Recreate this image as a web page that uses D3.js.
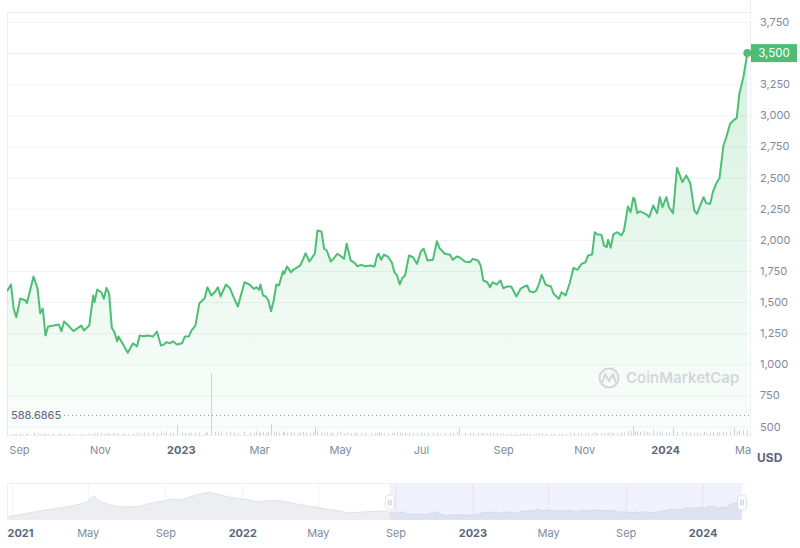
<!DOCTYPE html>
<html><head><meta charset="utf-8">
<script src="https://cdn.jsdelivr.net/npm/d3@7"></script>
<style>
body{margin:0;background:#fff;}
svg{display:block;font-family:Inter,"Noto Sans",sans-serif;}
</style>
</head><body>
<svg id="c" width="800" height="548"></svg>
<script>
// ---------- DATA ----------
const dates = ["2022-08-23","2022-08-26","2022-08-28","2022-08-30","2022-09-02","2022-09-06","2022-09-07","2022-09-12","2022-09-15","2022-09-17",
"2022-09-19","2022-09-21","2022-09-23","2022-09-27","2022-10-01","2022-10-03","2022-10-05","2022-10-09","2022-10-12","2022-10-18",
"2022-10-20","2022-10-24","2022-10-27","2022-10-28","2022-10-30","2022-11-02","2022-11-04","2022-11-06","2022-11-08","2022-11-10",
"2022-11-12","2022-11-14","2022-11-15","2022-11-18","2022-11-19","2022-11-22","2022-11-26","2022-11-29","2022-12-01","2022-12-04",
"2022-12-07","2022-12-11","2022-12-14","2022-12-17","2022-12-19","2022-12-21","2022-12-24","2022-12-26","2022-12-29","2023-01-02",
"2023-01-04","2023-01-07","2023-01-09","2023-01-12","2023-01-15","2023-01-19","2023-01-21","2023-01-24","2023-01-27","2023-01-29",
"2023-01-31","2023-02-04","2023-02-07","2023-02-10","2023-02-13","2023-02-18","2023-02-22","2023-02-25","2023-02-27","2023-03-01",
"2023-03-02","2023-03-04","2023-03-06","2023-03-08","2023-03-10","2023-03-12","2023-03-14","2023-03-16","2023-03-19","2023-03-20",
"2023-03-22","2023-03-25","2023-03-27","2023-03-30","2023-04-01","2023-04-03","2023-04-05","2023-04-08","2023-04-11","2023-04-12",
"2023-04-14","2023-04-17","2023-04-19","2023-04-21","2023-04-24","2023-04-26","2023-04-29","2023-05-01","2023-05-04","2023-05-06",
"2023-05-09","2023-05-12","2023-05-14","2023-05-17","2023-05-20","2023-05-24","2023-05-27","2023-05-29","2023-05-30","2023-06-01",
"2023-06-03","2023-06-06","2023-06-09","2023-06-11","2023-06-13","2023-06-15","2023-06-17","2023-06-19","2023-06-22","2023-06-25",
"2023-06-28","2023-07-01","2023-07-03","2023-07-06","2023-07-10","2023-07-13","2023-07-15","2023-07-19","2023-07-23","2023-07-25",
"2023-07-28","2023-07-30","2023-08-03","2023-08-07","2023-08-09","2023-08-13","2023-08-15","2023-08-17","2023-08-20","2023-08-22",
"2023-08-24","2023-08-27","2023-08-30","2023-09-01","2023-09-04","2023-09-07","2023-09-11","2023-09-14","2023-09-17","2023-09-19",
"2023-09-21","2023-09-24","2023-09-26","2023-09-28","2023-09-30","2023-10-03","2023-10-07","2023-10-09","2023-10-13","2023-10-15",
"2023-10-18","2023-10-21","2023-10-24","2023-10-27","2023-10-30","2023-11-02","2023-11-04","2023-11-07","2023-11-09","2023-11-11",
"2023-11-14","2023-11-16","2023-11-18","2023-11-19","2023-11-21","2023-11-23","2023-11-26","2023-11-29","2023-12-01","2023-12-04",
"2023-12-06","2023-12-08","2023-12-09","2023-12-11","2023-12-13","2023-12-16","2023-12-18","2023-12-20","2023-12-23","2023-12-26",
"2023-12-28","2023-12-30","2024-01-02","2024-01-04","2024-01-07","2024-01-10","2024-01-14","2024-01-17","2024-01-20","2024-01-23",
"2024-01-25","2024-01-27","2024-01-30","2024-02-01","2024-02-04","2024-02-06","2024-02-09","2024-02-11","2024-02-14","2024-02-16",
"2024-02-19","2024-02-22","2024-02-24","2024-02-26","2024-02-29","2024-03-03"];

const prices = [1587,1641,1448,1378,1528,1512,1491,1705,1609,1410,
1448,1231,1303,1311,1320,1266,1344,1303,1266,1311,
1271,1311,1553,1499,1601,1579,1526,1614,1566,1293,
1258,1185,1223,1169,1151,1092,1169,1143,1231,1226,
1231,1223,1263,1151,1156,1177,1169,1185,1159,1169,
1223,1223,1271,1311,1491,1531,1619,1553,1585,1619,
1545,1641,1611,1534,1464,1659,1639,1606,1619,1598,
1641,1553,1545,1512,1426,1512,1641,1633,1748,1727,
1786,1740,1761,1780,1794,1839,1892,1826,1874,1888,
2075,2067,1928,1914,1826,1847,1888,1874,1847,1968,
1834,1815,1788,1799,1788,1794,1786,1874,1888,1839,
1880,1866,1820,1740,1713,1641,1695,1713,1874,1860,
1807,1909,1928,1834,1839,1989,1933,1888,1880,1839,
1866,1860,1826,1820,1847,1834,1794,1673,1659,1619,
1659,1641,1673,1611,1625,1625,1545,1606,1625,1633,
1585,1579,1593,1647,1719,1639,1625,1566,1526,1579,
1553,1647,1775,1759,1807,1820,1874,1882,2061,2043,
2040,1954,1941,2000,1936,2043,2061,2035,2075,2268,
2222,2338,2330,2214,2230,2214,2203,2182,2276,2214,
2342,2262,2342,2262,2214,2579,2463,2517,2455,2236,
2209,2262,2342,2294,2289,2383,2463,2495,2758,2820,
2932,2964,2980,3173,3307,3500];

// volume (billions USD)
const volumes = [0.8,0.8,1,0.8,1.2,0.8,1,1.5,1,0.8,
0.8,1,0.8,1,0.8,1,0.8,1,0.8,1,
0.8,1,1.2,1,1.5,1,0.8,1,1.2,1,
1.5,1,0.8,1,1.2,1,0.8,1.5,1.2,2,
1.5,2.5,1.5,3,1.5,2,1.5,2,8,2,
1.5,2,1.5,2,2,1.5,2.5,50,2.5,2,
3,2,2.5,2,1.5,2.5,2,2,3,2,
2,2.5,2,2.5,9,3,2.5,2,3,2.5,
2,2.5,2,1.5,2,2.5,2,2,2.5,6,
3,2.5,2,2.5,2,1.5,2,2.5,1.5,2,
1.5,2,1.5,1.5,1.5,1,1.5,2,2.5,1.5,
1.5,1,1.5,2,2.5,2,1.5,2,1.5,1,
1,1.5,1,1.5,2,1.5,1,1.5,1,1.5,
2,6,2,1.5,1.5,2,1.5,1.5,1,1.5,
1,1.5,1,1,1,1,1,1,1,1,
1,0.8,1,1,1.5,1,1,1,1,1,
1,1,1.5,1,1.5,1,1.5,1,2,1.5,
1.5,1.5,1,1.5,1.5,2,1.5,2,2,3,
3,7,3,3,2.5,3,2.5,2,3.5,2.5,
3,2,2,2.5,6,2.5,2,2.5,2,2,
2,1.5,2.5,2,2,2.5,2,2,2.5,2.5,
3,6,3,3.5,4,4];

// navigator history before the zoomed window
const navDates = ["2020-12-24","2021-01-01","2021-01-15","2021-02-01","2021-02-15","2021-03-01","2021-04-01","2021-04-20","2021-05-01","2021-05-10",
"2021-05-20","2021-06-01","2021-06-20","2021-07-01","2021-07-20","2021-08-01","2021-08-20","2021-09-01","2021-09-10","2021-09-25",
"2021-10-10","2021-10-25","2021-11-10","2021-11-25","2021-12-10","2021-12-25","2022-01-10","2022-01-25","2022-02-10","2022-03-01",
"2022-03-20","2022-04-01","2022-05-01","2022-05-20","2022-06-01","2022-06-18","2022-07-01","2022-07-20","2022-08-01","2022-08-14"];
const navPrices = [900,1005,1305,1575,1800,2025,2475,2850,3225,4095,
3300,2850,2445,2445,2475,2805,3150,3375,3600,3450,
3900,4350,4605,4275,3900,3675,3525,3150,3330,3375,
3000,2775,2325,2025,1875,1500,1600,1700,1750,1800];

const yTicks = [500,750,1000,1250,1500,1750,2000,2250,2500,2750,3000,3250,3500,3750];
const xTickDates = ["2022-09-01","2022-11-01","2023-01-01","2023-03-01","2023-05-01","2023-07-01","2023-09-01","2023-11-01","2024-01-01","2024-03-01"];
const xTickLabels = ["Sep","Nov","2023","Mar","May","Jul","Sep","Nov","2024","Mar"];
const navTickDates = ["2021-01-01","2021-05-01","2021-09-01","2022-01-01","2022-05-01","2022-09-01","2023-01-01","2023-05-01","2023-09-01","2024-01-01"];
const navTickLabels = ["2021","May","Sep","2022","May","Sep","2023","May","Sep","2024"];
const refLineValue = 588.6865;
const currency = "USD";
const watermark = "CoinMarketCap";

// ---------- CHART ----------
const parse = d3.timeParse("%Y-%m-%d");
const green = "#4cbf74";
const gridCol = "#eff2f5";
const svg = d3.select("#c");

const series = dates.map((d,i)=>({date:parse(d), price:prices[i], vol:volumes[i]}));
const navSeries = navDates.map((d,i)=>({date:parse(d), price:navPrices[i]})).concat(series);

const L = 7, R = 750, T = 12, B = 435;
const x = d3.scaleTime().domain([parse("2022-08-23"), parse("2024-03-05")]).range([L, R]);
const y = d3.scaleLinear().domain([500, 3750]).range([426.5, 22]);
const yv = d3.scaleLinear().domain([0, 50]).range([B, 373]);

const defs = svg.append("defs");
const grad = defs.append("linearGradient").attr("id","gfill")
  .attr("gradientUnits","userSpaceOnUse").attr("x1",0).attr("x2",0).attr("y1",T).attr("y2",B);
grad.append("stop").attr("offset","0%").attr("stop-color","#3fbf6a").attr("stop-opacity",0.24);
grad.append("stop").attr("offset","100%").attr("stop-color","#3fbf6a").attr("stop-opacity",0.02);
defs.append("clipPath").attr("id","plotclip").append("rect").attr("x",L).attr("y",0).attr("width",R-L).attr("height",B);
defs.append("clipPath").attr("id","xclip").append("rect").attr("x",0).attr("y",B).attr("width",751).attr("height",40);

// gridlines via axis
const gridG = svg.append("g").attr("transform",`translate(${L},0)`)
  .call(d3.axisRight(y).tickValues(yTicks).tickSize(R-L).tickFormat(""));
gridG.select(".domain").remove();
gridG.selectAll("line").attr("stroke",gridCol).attr("stroke-width",1);

// plot borders
const bcol = "#eceff3";
svg.append("line").attr("x1",L).attr("x2",R).attr("y1",T+0.5).attr("y2",T+0.5).attr("stroke",bcol);
svg.append("line").attr("x1",L+0.5).attr("x2",L+0.5).attr("y1",T).attr("y2",B).attr("stroke",bcol);
svg.append("line").attr("x1",R+0.5).attr("x2",R+0.5).attr("y1",0).attr("y2",B+2).attr("stroke",bcol);
svg.append("line").attr("x1",L).attr("x2",R).attr("y1",B+0.5).attr("y2",B+0.5).attr("stroke",bcol);

const plot = svg.append("g").attr("clip-path","url(#plotclip)");

// area
plot.append("path").datum(series)
  .attr("d", d3.area().x(d=>x(d.date)).y0(B).y1(d=>y(d.price)))
  .attr("fill","url(#gfill)");

// volume bars
plot.selectAll(".vol").data(series).join("line")
  .attr("x1",d=>Math.round(x(d.date))+0.5).attr("x2",d=>Math.round(x(d.date))+0.5)
  .attr("y1",B).attr("y2",d=>yv(d.vol))
  .attr("stroke","#cdd2dc").attr("stroke-width",1);

// reference dotted line
svg.append("line").attr("x1",64).attr("x2",R).attr("y1",y(refLineValue)).attr("y2",y(refLineValue))
  .attr("stroke","#8a93a6").attr("stroke-width",1).attr("stroke-dasharray","1,3");
svg.append("text").attr("x",11).attr("y",y(refLineValue)).attr("dy","0.35em")
  .attr("font-size",11).attr("fill","#58667e").text(d3.format(".4f")(refLineValue));

// watermark
const wm = svg.append("g").attr("opacity",0.9);
wm.append("circle").attr("cx",609).attr("cy",378).attr("r",9.5).attr("fill","none").attr("stroke","#cfd3db").attr("stroke-width",2);
wm.append("path").attr("d","M602.5,382 L605,374 L609,381 L613,374 L615.5,382").attr("fill","none")
  .attr("stroke","#cfd3db").attr("stroke-width",2).attr("stroke-linejoin","round").attr("stroke-linecap","round");
wm.append("text").attr("x",626).attr("y",378).attr("dy","0.36em").attr("font-size",15).attr("font-weight",600)
  .attr("fill","#cfd3db").text(watermark);

// price line
plot.append("path").datum(series)
  .attr("d", d3.line().x(d=>x(d.date)).y(d=>y(d.price)))
  .attr("fill","none").attr("stroke",green).attr("stroke-width",2).attr("stroke-linejoin","round");

const last = series[series.length-1];
svg.append("circle").attr("cx",x(last.date)).attr("cy",y(last.price)).attr("r",4).attr("fill",green);

// y axis labels (the tick hidden behind the last-price tag is skipped)
const yAx = svg.append("g").attr("transform",`translate(${R+1},0)`)
  .call(d3.axisRight(y).tickValues(yTicks.filter(v=>Math.abs(y(v)-y(last.price))>12))
    .tickSize(0).tickPadding(9).tickFormat(d3.format(",")));
yAx.select(".domain").remove();
yAx.selectAll("text").attr("font-size",11).attr("fill","#808a9d").attr("font-family","Inter,'Noto Sans',sans-serif");

// last price tag
svg.append("rect").attr("x",R+1).attr("y",y(last.price)-9).attr("width",46).attr("height",18).attr("fill",green);
svg.append("text").attr("x",R+24).attr("y",y(last.price)).attr("dy","0.35em").attr("text-anchor","middle")
  .attr("font-size",11.5).attr("fill","#fff").text(d3.format(",.0f")(last.price));

// x axis
const xAx = svg.append("g").attr("transform",`translate(0,${B})`)
  .call(d3.axisBottom(x).tickValues(xTickDates.map(parse)).tickSize(0).tickPadding(11)
    .tickFormat((d,i)=>xTickLabels[i]));
xAx.select(".domain").remove();
xAx.selectAll("text").attr("font-size",11).attr("font-family","Inter,'Noto Sans',sans-serif")
  .attr("fill",(d,i)=>/^\d{4}$/.test(xTickLabels[i])?"#58667e":"#808a9d")
  .attr("font-weight",(d,i)=>/^\d{4}$/.test(xTickLabels[i])?700:400);
svg.append("g").attr("clip-path","url(#xclip)").node().appendChild(xAx.node());

svg.append("text").attr("x",757).attr("y",458).attr("dy","0.35em").attr("font-size",12).attr("font-weight",700)
  .attr("fill","#58667e").text(currency);

// ---------- NAVIGATOR ----------
const NL = 7, NR = 743, NT = 483, NB = 520;
const nx = d3.scaleTime().domain([parse("2020-12-24"), parse("2024-03-05")]).range([NL, NR]);
const ny = d3.scaleLinear().domain([600, 5100]).range([519, 489]);

const ng = svg.append("g");
const nGrid = ng.append("g").attr("transform",`translate(0,${NT})`)
  .call(d3.axisBottom(nx).tickValues(navTickDates.map(parse)).tickSize(NB-NT).tickFormat(""));
nGrid.select(".domain").remove();
nGrid.selectAll("line").attr("stroke",gridCol);

ng.append("path").datum(navSeries)
  .attr("d", d3.area().x(d=>nx(d.date)).y0(NB).y1(d=>ny(d.price)))
  .attr("fill","#eceef2");
ng.append("path").datum(navSeries)
  .attr("d", d3.line().x(d=>nx(d.date)).y(d=>ny(d.price)))
  .attr("fill","none").attr("stroke","#e0e3e9").attr("stroke-width",1);

const selA = nx(x.domain()[0]), selB = nx(x.domain()[1]) - 1;
ng.append("rect").attr("x",selA).attr("y",NT).attr("width",selB-selA).attr("height",NB-NT)
  .attr("fill","rgba(102,110,230,0.09)");

ng.append("line").attr("x1",NL).attr("x2",NR+2).attr("y1",NT+0.5).attr("y2",NT+0.5).attr("stroke","#eceff3");
ng.append("line").attr("x1",NL+0.5).attr("x2",NL+0.5).attr("y1",NT).attr("y2",NB).attr("stroke","#eceff3");

[selA, selB].forEach(hx=>{
  ng.append("rect").attr("x",hx-4.5).attr("y",495).attr("width",9).attr("height",15).attr("rx",4)
    .attr("fill","#fff").attr("stroke","#d5d9e1").attr("stroke-width",0.8);
  ng.append("line").attr("x1",hx-1.2).attr("x2",hx-1.2).attr("y1",499.5).attr("y2",505.5).attr("stroke","#aab0bd").attr("stroke-width",0.8);
  ng.append("line").attr("x1",hx+1.2).attr("x2",hx+1.2).attr("y1",499.5).attr("y2",505.5).attr("stroke","#aab0bd").attr("stroke-width",0.8);
});

const nAx = ng.append("g").attr("transform",`translate(0,${NB})`)
  .call(d3.axisBottom(nx).tickValues(navTickDates.map(parse)).tickSize(0).tickPadding(9)
    .tickFormat((d,i)=>navTickLabels[i]));
nAx.select(".domain").remove();
nAx.selectAll("text").attr("font-size",11).attr("font-family","Inter,'Noto Sans',sans-serif")
  .attr("fill",(d,i)=>/^\d{4}$/.test(navTickLabels[i])?"#58667e":"#808a9d")
  .attr("font-weight",(d,i)=>/^\d{4}$/.test(navTickLabels[i])?700:400)
  .each(function(d,i){ if(i===0){ d3.select(this).attr("text-anchor","start").attr("x", NL - nx(d)); } });
</script>
</body></html>
